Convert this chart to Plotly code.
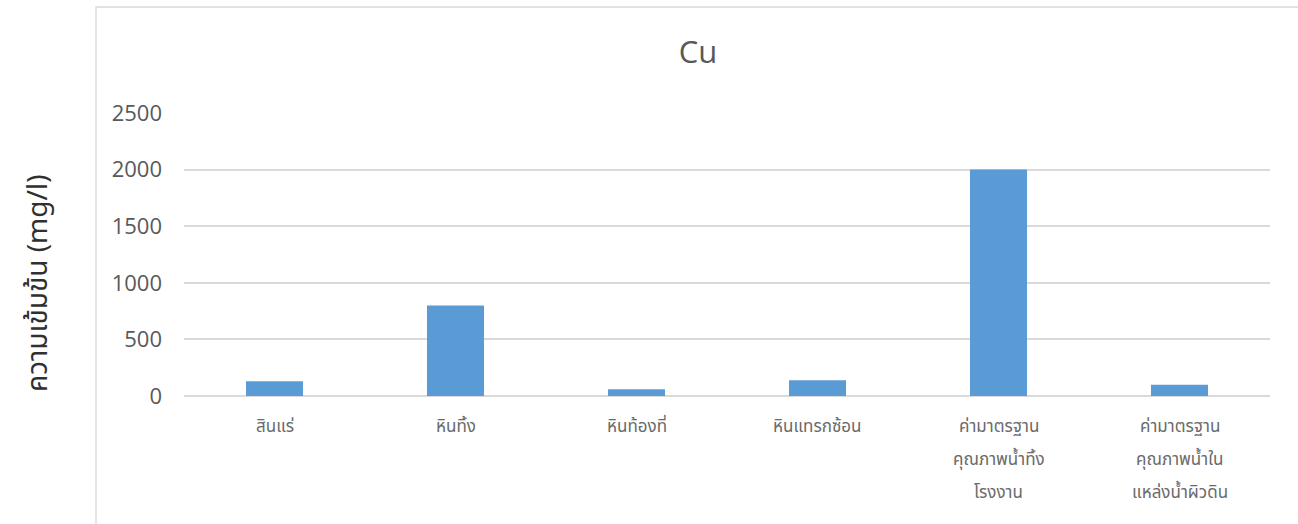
import plotly.graph_objects as go

# Copper concentration per sample group
categories = ["สินแร่", "หินทิ้ง", "หินท้องที่", "หินแทรกซ้อน",
              "ค่ามาตรฐาน<br>คุณภาพน้ำทิ้ง<br>โรงงาน",
              "ค่ามาตรฐาน<br>คุณภาพน้ำใน<br>แหล่งน้ำผิวดิน"]
cu_values = [130, 800, 60, 140, 2000, 100]
y_ticks = [0, 500, 1000, 1500, 2000, 2500]

BAR = "#5b9bd5"
GRID = "#d9d9d9"
TXT = "#595959"
THAI_FONT = "Noto Sans Thai, Noto Sans, sans-serif"

W, H = 1298, 524
L, R, T, B = 184, 28, 113, 128
PW, PH = W - L - R, H - T - B

fig = go.Figure()
fig.add_trace(go.Bar(
    x=list(range(len(categories))), y=cu_values,
    marker=dict(color=BAR, line=dict(width=0)),
    width=0.315,
))

# Multi-line category labels, one annotation per line for wider line spacing
for i, cat in enumerate(categories):
    for j, line in enumerate(cat.split("<br>")):
        fig.add_annotation(
            x=i, xref="x", y=0, yref="paper",
            text=line, showarrow=False,
            yanchor="middle", yshift=-31 - 33 * j,
            font=dict(family=THAI_FONT, size=17, color="#6a6a6a"),
        )

# Vertical axis title
fig.add_annotation(
    x=(38 - L) / PW, xref="paper", y=(H - 283 - B) / PH, yref="paper",
    text="ความเข้มข้น (mg/l)", textangle=-90, showarrow=False,
    xanchor="center", yanchor="middle",
    font=dict(family=THAI_FONT, size=28, color="#303030"),
)

# Chart-area border (left and top edges)
fig.add_shape(type="rect", xref="paper", yref="paper",
              x0=(96 - L) / PW, x1=1.2, y0=-0.5, y1=(H - 7 - B) / PH,
              line=dict(color=GRID, width=1.3), fillcolor="rgba(0,0,0,0)", layer="below")

fig.update_layout(
    width=W, height=H,
    margin=dict(l=L, r=R, t=T, b=B),
    paper_bgcolor="white", plot_bgcolor="white",
    showlegend=False,
    title=dict(text="Cu", x=698 / W, xref="container", xanchor="center",
               y=1 - 52 / H, yref="container", yanchor="middle",
               font=dict(family="Open Sans, sans-serif", size=31, color=TXT)),
    xaxis=dict(range=[-0.5, 5.5], showticklabels=False, showgrid=False,
               zeroline=False, showline=False, fixedrange=True),
    yaxis=dict(range=[0, 2500], tickvals=y_ticks, ticktext=[str(v) for v in y_ticks],
               showgrid=True, gridcolor=GRID, gridwidth=1.5,
               zeroline=True, zerolinecolor=GRID, zerolinewidth=1.5,
               showline=False, ticks="", ticklabelstandoff=21,
               tickfont=dict(family="Open Sans, sans-serif", size=22, color=TXT)),
)

fig.write_html("out.html")
